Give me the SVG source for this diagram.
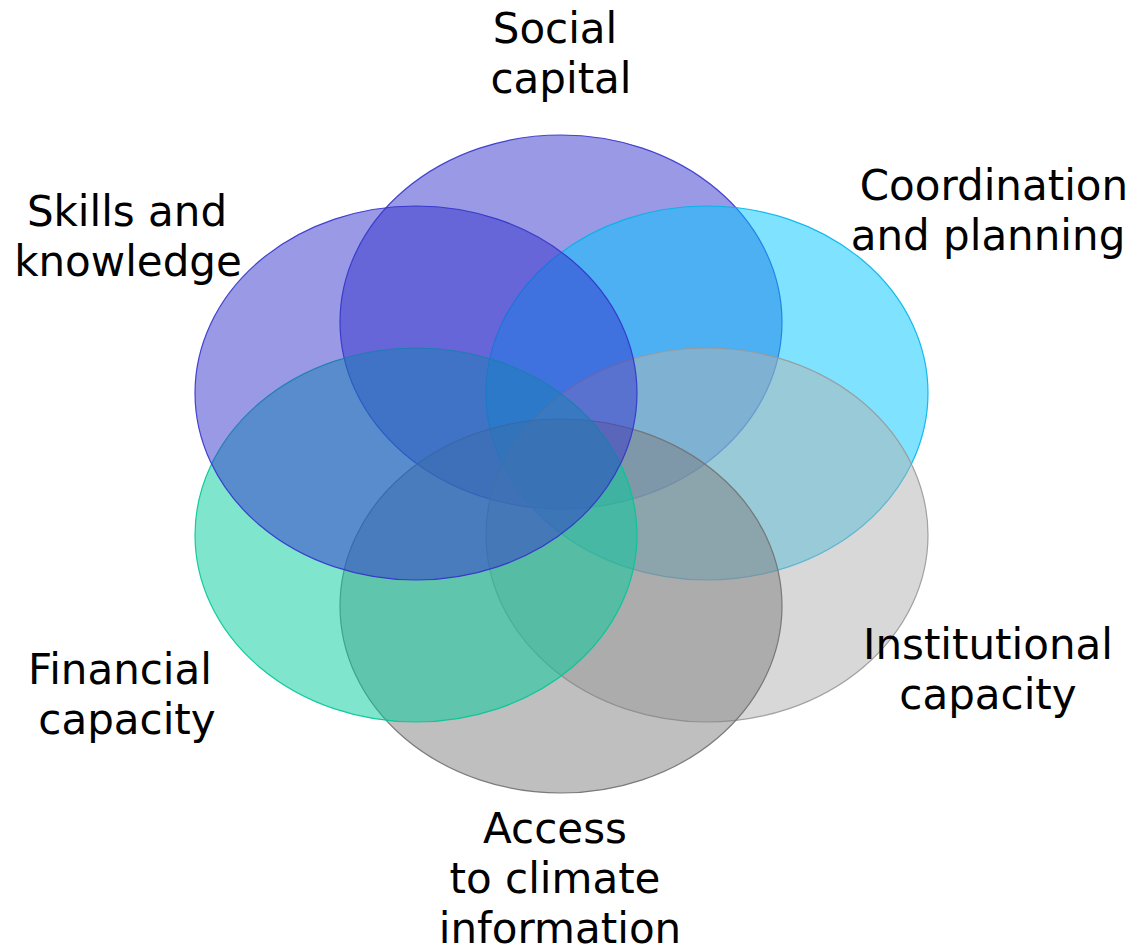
<svg xmlns="http://www.w3.org/2000/svg" width="1136" height="950" viewBox="0 0 1136 950">
<style>
.lbl{font-family:"DejaVu Sans","Verdana",sans-serif;font-size:42px;fill:#000;text-anchor:middle}
.e{stroke-width:1.2}
.purple{fill:#3333cc;fill-opacity:0.5;stroke:#3333cc;stroke-opacity:0.9}
.cyan{fill:#00c8ff;fill-opacity:0.5;stroke:#00b4ea;stroke-opacity:0.9}
.lgray{fill:#b2b2b2;fill-opacity:0.5;stroke:#999999;stroke-opacity:0.9}
.dgray{fill:#808080;fill-opacity:0.5;stroke:#707070;stroke-opacity:0.9}
.green{fill:#00cc99;fill-opacity:0.5;stroke:#00c896;stroke-opacity:0.9}
</style>
<rect width="1136" height="950" fill="#ffffff"/>
<g id="social-capital">
<ellipse class="e purple" cx="561" cy="322" rx="221" ry="187"/>
<text class="lbl" x="555" y="43">Social</text>
<text class="lbl" x="561" y="93">capital</text>
</g>
<g id="coordination-and-planning">
<ellipse class="e cyan" cx="707" cy="393" rx="221" ry="187"/>
<text class="lbl" x="994" y="200">Coordination</text>
<text class="lbl" x="988" y="250">and planning</text>
</g>
<g id="institutional-capacity">
<ellipse class="e lgray" cx="707" cy="535" rx="221" ry="187"/>
<text class="lbl" x="988" y="659">Institutional</text>
<text class="lbl" x="988" y="709">capacity</text>
</g>
<g id="access-to-climate-information">
<ellipse class="e dgray" cx="561" cy="606" rx="221" ry="187"/>
<text class="lbl" x="555" y="843">Access</text>
<text class="lbl" x="555" y="893">to climate</text>
<text class="lbl" x="560" y="943">information</text>
</g>
<g id="financial-capacity">
<ellipse class="e green" cx="416" cy="535" rx="221" ry="187"/>
<text class="lbl" x="120" y="684">Financial</text>
<text class="lbl" x="127" y="734">capacity</text>
</g>
<g id="skills-and-knowledge">
<ellipse class="e purple" cx="416" cy="393" rx="221" ry="187"/>
<text class="lbl" x="127" y="226">Skills and</text>
<text class="lbl" x="128" y="276">knowledge</text>
</g>
<g id="connectors"></g>
</svg>
